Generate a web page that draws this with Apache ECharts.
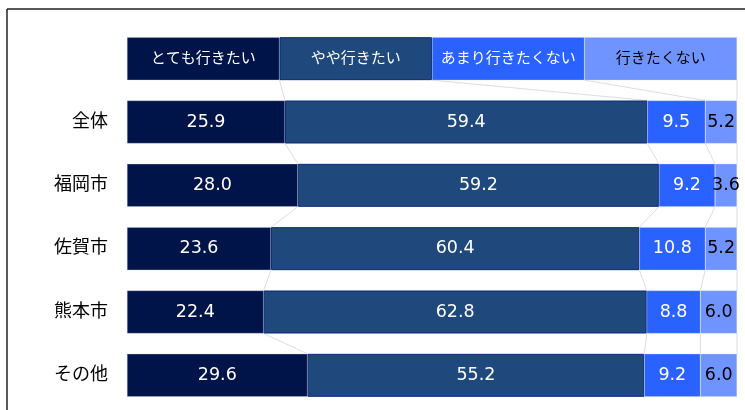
<!DOCTYPE html>
<html>
<head>
<meta charset="utf-8">
<script src="https://cdn.jsdelivr.net/npm/echarts@6/dist/echarts.min.js"></script>
<style>
  html, body { margin: 0; padding: 0; background: #fff; }
  #chart { width: 745px; height: 410px; }
</style>
</head>
<body>
<div id="chart"></div>
<script>
// rows: header row (legend boxes) + regions
var categories = ['', '全体', '福岡市', '佐賀市', '熊本市', 'その他'];
var seriesNames = ['とても行きたい', 'やや行きたい', 'あまり行きたくない', '行きたくない'];
var headerValues = [25, 25, 25, 25];
var veryWant = [25.9, 28.0, 23.6, 22.4, 29.6];
var someWant = [59.4, 59.2, 60.4, 62.8, 55.2];
var notMuch  = [9.5, 9.2, 10.8, 8.8, 9.2];
var notWant  = [5.2, 3.6, 5.2, 6.0, 6.0];

var colors = ['#00144a', '#1f497d', '#2962ff', '#6f94ff'];
var labelColors = ['#fff', '#fff', '#fff', '#000'];
var BAR_W = 43;
var FONT = "'DejaVu Sans', 'Noto Sans CJK JP', sans-serif";

var chart = echarts.init(document.getElementById('chart'));

var rows = [veryWant, someWant, notMuch, notWant];

// cumulative boundaries per row, used for the thin connector lines
var allRows = [];
for (var r = 0; r < categories.length; r++) {
    var vals = rows.map(function (s, k) { return r === 0 ? headerValues[k] : s[r - 1]; });
    var cum = [], acc = 0;
    vals.forEach(function (v) { acc += v; cum.push(acc); });
    allRows.push(cum);
}
var linkData = [];
for (var i = 0; i < categories.length - 1; i++) {
    for (var j = 0; j < 4; j++) {
        linkData.push([allRows[i][j], i, allRows[i + 1][j]]);
    }
}

var barSeries = rows.map(function (s, k) {
    return {
        name: seriesNames[k],
        type: 'bar',
        stack: 'all',
        barWidth: BAR_W,
        data: [headerValues[k]].concat(s),
        itemStyle: {
            color: colors[k],
            borderColor: k === 1 ? '#0b2a78' : 'rgba(200,210,230,0.6)',
            borderWidth: k === 1 ? 1 : 0.5
        },
        label: {
            show: true,
            position: 'inside',
            color: labelColors[k],
            fontFamily: FONT,
            fontSize: 17.5,
            formatter: function (p) {
                return p.dataIndex === 0 ? '{h|' + p.seriesName + '}' : p.value.toFixed(1);
            },
            rich: {
                h: { fontSize: 15, fontFamily: FONT, color: labelColors[k] }
            }
        },
        emphasis: { disabled: true },
        z: 3
    };
});

var option = {
    animation: false,
    grid: { left: 127, right: 8, top: 27, bottom: 3 },
    xAxis: {
        type: 'value',
        min: 0,
        max: 100,
        show: false
    },
    yAxis: {
        type: 'category',
        inverse: true,
        data: categories,
        axisLine: { show: false },
        axisTick: { show: false },
        axisLabel: {
            margin: 19,
            color: '#000',
            fontSize: 18,
            fontFamily: FONT
        }
    },
    graphic: [
        { type: 'line', shape: { x1: 7, y1: 9, x2: 7, y2: 420 }, style: { stroke: '#222', lineWidth: 1.5 } },
        { type: 'line', shape: { x1: 7, y1: 9, x2: 760, y2: 9 }, style: { stroke: '#222', lineWidth: 1.5 } }
    ],
    series: barSeries.concat([{
        type: 'custom',
        data: linkData,
        encode: { x: [0, 2], y: 1 },
        z: 1,
        silent: true,
        renderItem: function (params, api) {
            var y = api.value(1);
            var p0 = api.coord([api.value(0), y]);
            var p1 = api.coord([api.value(2), y + 1]);
            return {
                type: 'line',
                shape: { x1: p0[0], y1: p0[1] + BAR_W / 2, x2: p1[0], y2: p1[1] - BAR_W / 2 },
                style: { stroke: '#d4d4d4', lineWidth: 0.8 }
            };
        }
    }])
};

chart.setOption(option);

window.addEventListener('resize', function () {
    chart.resize();
});
</script>
</body>
</html>
